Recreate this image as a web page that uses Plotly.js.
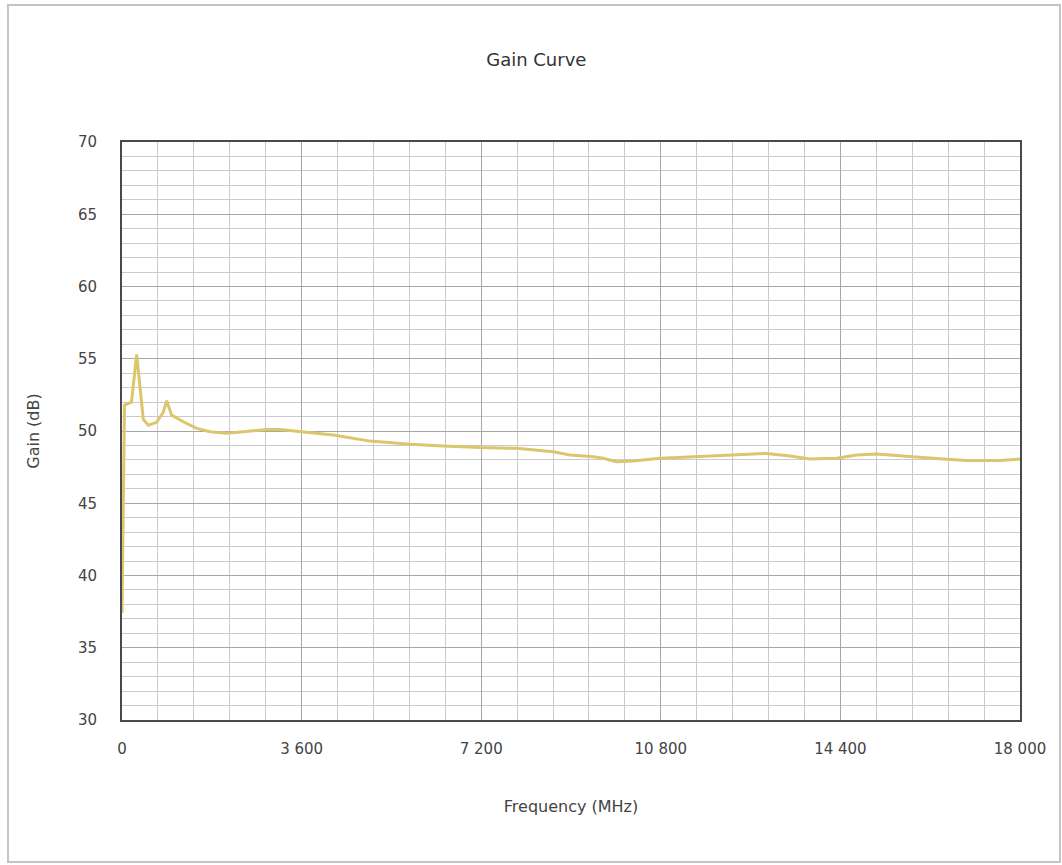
<!DOCTYPE html>
<html>
<head>
<meta charset="utf-8">
<script src="https://cdn.plot.ly/plotly-3.0.1.min.js"></script>
<style>html,body{margin:0;padding:0;background:#fff;}#chart{width:1062px;height:865px;}</style>
</head>
<body>
<div id="chart"></div>
<script>
// Frequency in MHz
const frequency = [0, 50, 190, 294, 427, 528, 695, 828, 895, 995, 1229, 1496, 1764, 2098, 2431, 2899, 3166, 3567, 4235, 4970, 5772, 6439, 7174, 7909, 8643, 8978, 9445, 9646, 9913, 10247, 10782, 11249, 12251, 12920, 13387, 13788, 14323, 14724, 15125, 15792, 16460, 16928, 17595, 18000];
// Gain in dB
const gain = [37.4, 51.8, 52.0, 55.3, 50.8, 50.4, 50.6, 51.3, 52.1, 51.1, 50.64, 50.18, 49.95, 49.84, 49.95, 50.11, 50.1, 49.95, 49.72, 49.3, 49.08, 48.96, 48.85, 48.8, 48.57, 48.34, 48.22, 48.11, 47.88, 47.92, 48.11, 48.18, 48.34, 48.45, 48.27, 48.06, 48.11, 48.34, 48.41, 48.22, 48.06, 47.95, 47.95, 48.06];
const xTickVals = [0, 3600, 7200, 10800, 14400, 18000];
const xTickText = ['0', '3 600', '7 200', '10 800', '14 400', '18 000'];
const yTickVals = [30, 35, 40, 45, 50, 55, 60, 65, 70];

const FONT = 'DejaVu Sans, sans-serif';
const L = 122, R = 1020, T = 142, B = 720;
const pw = R - L, ph = B - T;
function px(x){ return (x - L) / pw; }
function py(y){ return (B - y) / ph; }

const trace = {
  x: frequency, y: gain, type: 'scatter', mode: 'lines',
  line: {color: '#dcc66c', width: 3, shape: 'linear'},
  hoverinfo: 'skip', showlegend: false
};

const layout = {
  width: 1062, height: 865,
  margin: {l: L, r: 1062 - R, t: T, b: 865 - B},
  paper_bgcolor: '#ffffff', plot_bgcolor: '#ffffff',
  font: {family: FONT, color: '#444', size: 15},
  title: {text: 'Gain Curve', x: 0.505, xanchor: 'center', y: 1 - 60/865, yanchor: 'middle', font: {family: FONT, size: 18, color: '#333'}},
  xaxis: {
    range: [0, 18000], tickvals: xTickVals, ticktext: xTickText,
    showgrid: true, gridcolor: '#a6a6a6', gridwidth: 1,
    minor: {dtick: 720, showgrid: true, gridcolor: '#cacaca', gridwidth: 1, ticks: ''},
    showline: true, mirror: true, linecolor: '#4a4a4a', linewidth: 2,
    ticks: '', ticklabelstandoff: 14, zeroline: false,
    tickfont: {family: FONT, size: 15, color: '#444'},
    title: {text: 'Frequency (MHz)', standoff: 44, font: {family: FONT, size: 16, color: '#444'}}
  },
  yaxis: {
    range: [30, 70], tickvals: yTickVals,
    showgrid: true, gridcolor: '#a6a6a6', gridwidth: 1,
    minor: {dtick: 1, showgrid: true, gridcolor: '#cacaca', gridwidth: 1, ticks: ''},
    showline: true, mirror: true, linecolor: '#4a4a4a', linewidth: 2,
    ticks: '', ticklabelstandoff: 20, zeroline: false,
    tickfont: {family: FONT, size: 15, color: '#444'},
    title: {text: 'Gain (dB)', standoff: 34, font: {family: FONT, size: 16, color: '#444'}}
  },
  shapes: [{
    type: 'rect', xref: 'paper', yref: 'paper', layer: 'below',
    x0: px(8), x1: px(1060), y0: py(862), y1: py(5),
    line: {color: '#c4c4c4', width: 2}, fillcolor: 'rgba(0,0,0,0)'
  }]
};

Plotly.newPlot('chart', [trace], layout, {displayModeBar: false, staticPlot: true});
</script>
</body>
</html>
